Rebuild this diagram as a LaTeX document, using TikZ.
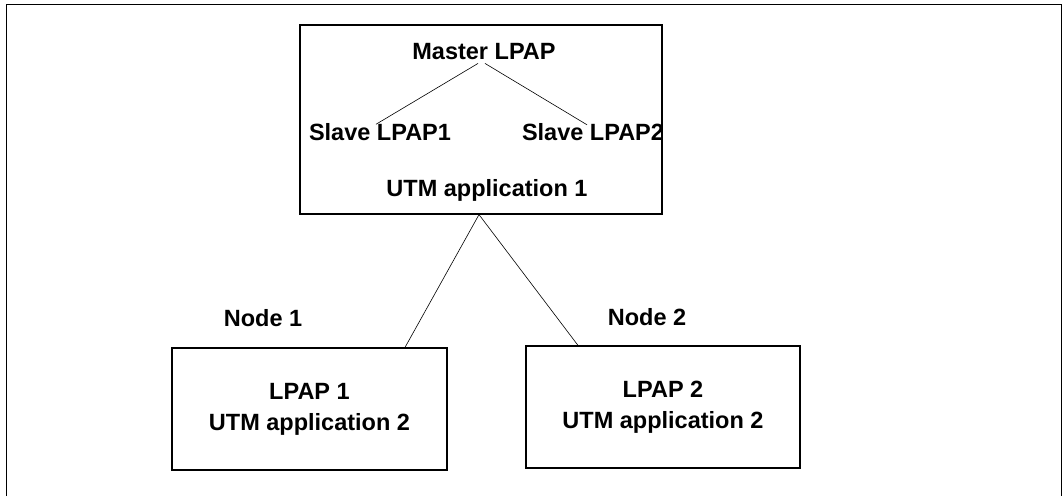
\documentclass[tikz,border=0pt]{standalone}
\usepackage{fontspec}
\setmainfont{Liberation Sans}
\begin{document}
\begin{tikzpicture}[x=1pt,y=-1pt,
  box/.style={draw,line width=1.2pt,inner sep=0pt,align=center,
    font=\fontsize{23.5}{31}\selectfont\bfseries},
  lbl/.style={anchor=base,inner sep=0pt,font=\fontsize{23.5}{31}\selectfont\bfseries},
  link/.style={line width=0.6pt}]
\useasboundingbox (0,0) rectangle (1063,496);
% frame, open at the bottom
\draw[line width=1.4pt] (6.5,496) -- (6.5,4.5) -- (1061.5,4.5) -- (1061.5,496);

% application 1 with its master and slaves
\node[box,minimum width=362pt,minimum height=189pt] (app1) at (481,119.5) {};
\node[lbl] (master) at (484,59.5) {Master LPAP};
\node[lbl] (slave1) at (380,140) {Slave LPAP1};
\node[lbl] (slave2) at (593,140) {Slave LPAP2};
\node[lbl] (utm1) at (487,196.5) {UTM application 1};
\draw[link] ([shift={(-6,3.5)}]master.south) -- ([shift={(-4,1.5)}]slave1.north);
\draw[link] ([shift={(1,3.5)}]master.south) -- ([shift={(-6,2)}]slave2.north);

% the two nodes
\node[lbl] (node1) at (263,326) {Node 1};
\node[lbl] (node2) at (647,325) {Node 2};
\node[box,minimum width=275pt,minimum height=122pt] (lpap1) at (309.5,409) {LPAP 1\\ UTM application 2};
\node[box,minimum width=274pt,minimum height=122pt] (lpap2) at (663,407) {LPAP 2\\ UTM application 2};

\draw[link] ([xshift=-2pt]app1.south) -- ([xshift=95.5pt]lpap1.north);
\draw[link] ([xshift=-2pt]app1.south) -- ([xshift=-85pt]lpap2.north);
\end{tikzpicture}
\end{document}
